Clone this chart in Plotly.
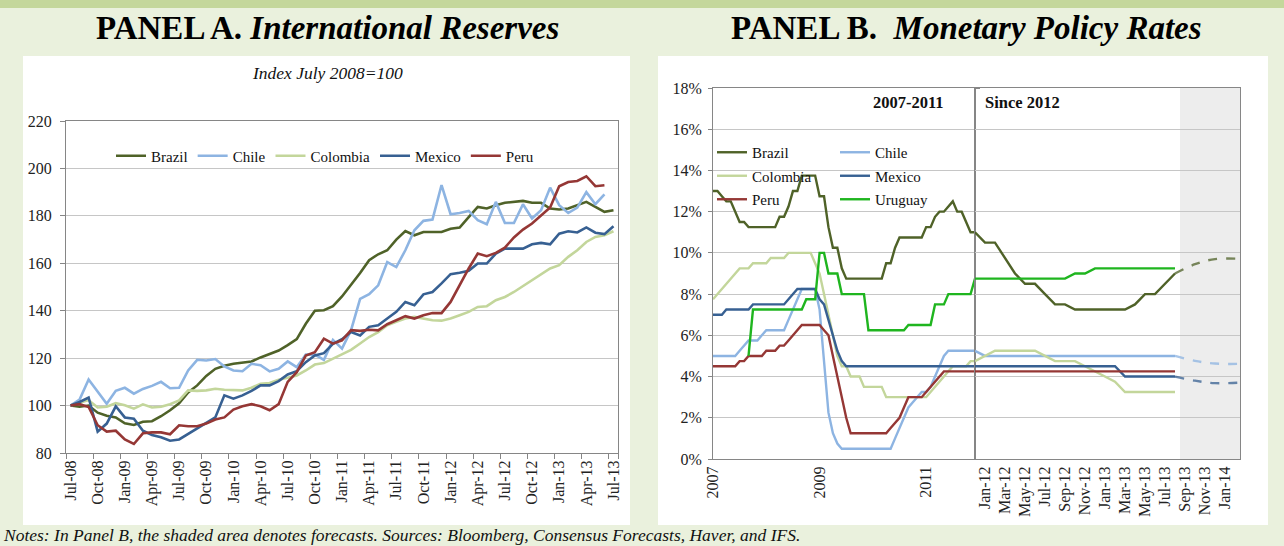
import plotly.graph_objects as go
import pandas as pd

W, H = 1284, 546
FONT = "Liberation Serif"

# ---------------- Panel A data: International reserves (index Jul-08 = 100)
months_a = list(pd.date_range("2008-07-01", "2013-07-01", freq="MS").strftime("%b-%y"))
brazil_a = [100, 99.5, 100, 97, 95.7, 95, 92.5, 91.8, 93.2, 93.4, 95.5, 98,
            101, 105.5, 108.5, 112.5, 115.5, 116.8, 117.6, 118.2, 118.6, 120.3, 121.8, 123.2,
            125.5, 128, 134.5, 140, 140.2, 141.9, 146, 150.7, 155.9, 161.3, 163.8, 165.5,
            170, 173.6, 171.8, 173.2, 173.2, 173.2, 174.6, 175.1, 179.5, 183.8, 183.1, 184.5,
            185.5, 185.9, 186.3, 185.5, 185.5, 183.1, 182.7, 183.1, 184.5, 185.9, 183.8, 181.7, 182.4]
chile_a = [100, 102.5, 111, 105.7, 100.8, 106.2, 107.5, 105, 107, 108.3, 110, 107.3,
           107.5, 114.8, 119.3, 119, 119.6, 116.5, 114.8, 114.5, 117.6, 117, 114.4, 115.5,
           118.6, 116.2, 121.5, 121.5, 119.3, 127.7, 124, 131.8, 145, 147, 150.7, 160.5,
           158.4, 165.5, 173.9, 177.9, 178.4, 193, 180.7, 181.2, 182.1, 178.2, 176.5, 185.9,
           177, 177, 184.9, 178.9, 182.4, 191.9, 184.5, 181.2, 183.5, 190, 184.9, 189.1]
colombia_a = [100, 101, 102.3, 99.2, 99.5, 101, 100.1, 98.7, 100.5, 99.2, 99.5, 100.6,
              102.2, 106.4, 106.2, 106.4, 107.1, 106.7, 106.7, 106.4, 107.5, 109.2, 109.5, 110.9,
              111.7, 112.7, 114.8, 117.3, 117.9, 119.7, 121.5, 123.5, 126.2, 128.9, 131, 133.9,
              135.3, 136.7, 137.4, 136.7, 136, 135.8, 136.7, 138.1, 139.5, 141.6, 141.9, 144.4,
              145.8, 147.9, 150.3, 152.8, 155.4, 157.8, 159.2, 162.7, 165.5, 169, 171.1, 171.8, 173.5]
mexico_a = [100, 101.5, 103.4, 89, 92.4, 99.7, 95, 94.5, 89.4, 87.6, 86.6, 85.2,
            85.7, 88, 90.6, 92.7, 95, 104.3, 102.9, 104.3, 106.2, 108.5, 108.5, 110.3,
            113.1, 114.5, 118.3, 121.1, 122.1, 126, 128, 131, 129.6, 133.2, 133.9, 136.7,
            139.5, 143.7, 142.3, 146.9, 147.9, 151.5, 155.4, 156, 156.8, 159.9, 159.9, 164.1,
            166.2, 166.2, 166.2, 168, 168.6, 168, 172.5, 173.5, 173, 175.1, 172.9, 172.3, 175.6]
peru_a = [100, 100.6, 99.4, 91.7, 89, 89.4, 85.7, 83.8, 88.3, 88.7, 88.7, 87.9,
          91.7, 91.3, 91.3, 92.4, 94.1, 95, 98.3, 99.7, 100.6, 99.7, 98, 100.6,
          110, 114.1, 121.1, 122.5, 128.2, 126.1, 127.5, 131.8, 131.5, 132, 131.7, 134.3,
          136, 137.7, 136.7, 138.1, 139, 139, 143.7, 150.7, 157.8, 164.1, 163, 164.4,
          166.6, 170.9, 174.2, 176.8, 180.3, 183.5, 192.5, 194.3, 194.7, 196.7, 192.5, 192.9]

# ---------------- Panel B data: monetary policy rates (%)
months_b_left = list(pd.date_range("2007-01-01", "2011-12-01", freq="MS").strftime("%b-%y"))
brazil_bl = [13.0, 13.0, 12.75, 12.5, 12.5, 12.0, 11.5, 11.5, 11.25, 11.25, 11.25, 11.25,
             11.25, 11.25, 11.25, 11.75, 11.75, 12.25, 13.0, 13.0, 13.75, 13.75, 13.75, 13.75,
             12.75, 12.75, 11.25, 10.25, 10.25, 9.25, 8.75, 8.75, 8.75, 8.75, 8.75, 8.75,
             8.75, 8.75, 8.75, 9.5, 9.5, 10.25, 10.75, 10.75, 10.75, 10.75, 10.75, 10.75,
             11.25, 11.25, 11.75, 12.0, 12.0, 12.25, 12.5, 12.0, 12.0, 11.5, 11.0, 11.0]
chile_bl = [5.0, 5.0, 5.0, 5.0, 5.0, 5.0, 5.25, 5.5, 5.75, 5.75, 5.75, 6.0,
            6.25, 6.25, 6.25, 6.25, 6.25, 6.75, 7.25, 7.75, 8.25, 8.25, 8.25, 8.25,
            7.25, 4.75, 2.25, 1.25, 0.75, 0.5, 0.5, 0.5, 0.5, 0.5, 0.5, 0.5,
            0.5, 0.5, 0.5, 0.5, 0.5, 1.0, 1.5, 2.0, 2.5, 2.75, 3.0, 3.25,
            3.25, 3.5, 4.0, 4.5, 5.0, 5.25, 5.25, 5.25, 5.25, 5.25, 5.25, 5.25]
colombia_bl = [7.75, 8.0, 8.25, 8.5, 8.75, 9.0, 9.25, 9.25, 9.25, 9.5, 9.5, 9.5,
               9.5, 9.75, 9.75, 9.75, 9.75, 10.0, 10.0, 10.0, 10.0, 10.0, 10.0, 9.5,
               9.0, 8.0, 7.0, 6.0, 5.0, 4.5, 4.5, 4.0, 4.0, 4.0, 3.5, 3.5,
               3.5, 3.5, 3.5, 3.0, 3.0, 3.0, 3.0, 3.0, 3.0, 3.0, 3.0, 3.0,
               3.0, 3.25, 3.5, 3.75, 4.0, 4.25, 4.5, 4.5, 4.5, 4.5, 4.75, 4.75]
mexico_bl = [7.0, 7.0, 7.0, 7.25, 7.25, 7.25, 7.25, 7.25, 7.25, 7.5, 7.5, 7.5,
             7.5, 7.5, 7.5, 7.5, 7.5, 7.75, 8.0, 8.25, 8.25, 8.25, 8.25, 8.25,
             7.75, 7.5, 6.75, 6.0, 5.25, 4.75, 4.5, 4.5, 4.5, 4.5, 4.5, 4.5,
             4.5, 4.5, 4.5, 4.5, 4.5, 4.5, 4.5, 4.5, 4.5, 4.5, 4.5, 4.5,
             4.5, 4.5, 4.5, 4.5, 4.5, 4.5, 4.5, 4.5, 4.5, 4.5, 4.5, 4.5]
peru_bl = [4.5, 4.5, 4.5, 4.5, 4.5, 4.5, 4.75, 4.75, 5.0, 5.0, 5.0, 5.0,
           5.25, 5.25, 5.25, 5.5, 5.5, 5.75, 6.0, 6.25, 6.5, 6.5, 6.5, 6.5,
           6.5, 6.25, 6.0, 5.0, 4.0, 3.0, 2.0, 1.25, 1.25, 1.25, 1.25, 1.25,
           1.25, 1.25, 1.25, 1.25, 1.5, 1.75, 2.0, 2.5, 3.0, 3.0, 3.0, 3.0,
           3.25, 3.5, 3.75, 4.0, 4.25, 4.25, 4.25, 4.25, 4.25, 4.25, 4.25, 4.25]
uruguay_bl = [None, None, None, None, None, None, None, None, 5.0, 7.25, 7.25, 7.25,
              7.25, 7.25, 7.25, 7.25, 7.25, 7.25, 7.25, 7.25, 7.25, 7.75, 7.75, 7.75,
              10.0, 10.0, 9.0, 9.0, 9.0, 8.0, 8.0, 8.0, 8.0, 8.0, 8.0, 6.25,
              6.25, 6.25, 6.25, 6.25, 6.25, 6.25, 6.25, 6.25, 6.5, 6.5, 6.5, 6.5,
              6.5, 6.5, 7.5, 7.5, 7.5, 8.0, 8.0, 8.0, 8.0, 8.0, 8.0, 8.75]

months_b_right = list(pd.date_range("2012-01-01", "2013-08-01", freq="MS").strftime("%b-%y"))
brazil_br = [10.5, 10.5, 9.75, 9.0, 8.5, 8.5, 8.0, 7.5, 7.5, 7.25, 7.25, 7.25,
             7.25, 7.25, 7.25, 7.5, 8.0, 8.0, 8.5, 9.0]
chile_br = [5.0] * 20
colombia_br = [5.0, 5.25, 5.25, 5.25, 5.25, 5.25, 5.0, 4.75, 4.75, 4.75, 4.5, 4.25,
               4.0, 3.75, 3.25, 3.25, 3.25, 3.25, 3.25, 3.25]
mexico_br = [4.5, 4.5, 4.5, 4.5, 4.5, 4.5, 4.5, 4.5, 4.5, 4.5, 4.5, 4.5,
             4.5, 4.5, 4.0, 4.0, 4.0, 4.0, 4.0, 4.0]
peru_br = [4.25] * 20
uruguay_br = [8.75, 8.75, 8.75, 8.75, 8.75, 8.75, 8.75, 8.75, 8.75, 9.0, 9.0, 9.25,
              9.25, 9.25, 9.25, 9.25, 9.25, 9.25, 9.25, 9.25]

# forecasts (dashed)
months_fc = ["Aug-13", "Oct-13", "Dec-13", "Mar-14"]
brazil_fc = [9.0, 9.45, 9.7, 9.7]
chile_fc = [5.0, 4.76, 4.63, 4.62]
mexico_fc = [4.0, 3.8, 3.68, 3.72]

# axis categories for right section of Panel B
cats_right = list(pd.date_range("2011-12-01", "2014-03-01", freq="MS").strftime("%b-%y"))
ticks_right = ["Jan-12", "Mar-12", "May-12", "Jul-12", "Sep-12", "Nov-12", "Jan-13",
               "Mar-13", "May-13", "Jul-13", "Sep-13", "Nov-13", "Jan-14"]
ticks_left = ["Jan-07", "Jan-09", "Jan-11"]
ticks_left_text = ["2007", "2009", "2011"]
forecast_start = "Sep-13"

COL = {"Brazil": "#4F6228", "Chile": "#8DB4E2", "Colombia": "#C3D69B",
       "Mexico": "#376092", "Peru": "#953735", "Uruguay": "#1FB51F"}

fig = go.Figure()

# Panel A traces
for name, vals in [("Brazil", brazil_a), ("Chile", chile_a), ("Colombia", colombia_a),
                   ("Mexico", mexico_a), ("Peru", peru_a)]:
    fig.add_trace(go.Scatter(x=months_a[:len(vals)], y=vals, mode="lines", name=name,
                             line=dict(color=COL[name], width=2.6),
                             xaxis="x", yaxis="y", legend="legend", legendgroup="A" + name))

# Panel B traces
left_sets = [("Brazil", brazil_bl, brazil_br, "legend2"), ("Chile", chile_bl, chile_br, "legend3"),
             ("Colombia", colombia_bl, colombia_br, "legend2"), ("Mexico", mexico_bl, mexico_br, "legend3"),
             ("Peru", peru_bl, peru_br, "legend2"), ("Uruguay", uruguay_bl, uruguay_br, "legend3")]
for name, lv, rv, lg in left_sets:
    fig.add_trace(go.Scatter(x=months_b_left, y=lv, mode="lines", name=name,
                             line=dict(color=COL[name], width=2.4),
                             xaxis="x2", yaxis="y2", legend=lg, legendgroup="B" + name))
    fig.add_trace(go.Scatter(x=[months_b_left[-1]] + months_b_right, y=[lv[-1]] + rv,
                             mode="lines", name=name, showlegend=False,
                             line=dict(color=COL[name], width=2.4),
                             xaxis="x3", yaxis="y2", legendgroup="B" + name))
for name, fv in [("Brazil", brazil_fc), ("Chile", chile_fc), ("Mexico", mexico_fc)]:
    fig.add_trace(go.Scatter(x=months_fc, y=fv, mode="lines", name=name + " forecast",
                             showlegend=False, opacity=0.75,
                             line=dict(color=COL[name], width=2.4, dash="dash", shape="spline"),
                             xaxis="x3", yaxis="y2", legendgroup="B" + name))

AX = "#868686"
GRID = "#C6C6C6"
tickfont = dict(family=FONT, size=16, color="#222222")

def px(x):
    return x / W

def py(y):
    return 1 - y / H

right_range = [0, cats_right.index("Feb-14") + 0.5]

fig.update_layout(
    width=W, height=H,
    margin=dict(l=0, r=0, t=0, b=0),
    paper_bgcolor="#EAF1DD", plot_bgcolor="rgba(0,0,0,0)",
    font=dict(family=FONT, size=15, color="#111111"),
    xaxis=dict(domain=[px(66), px(618)], anchor="y", type="category",
               categoryorder="array", categoryarray=months_a, range=[-0.5, 60.5],
               tickmode="array", tickvals=months_a[::3], tickangle=-90, tickson="boundaries",
               ticks="outside", ticklen=5, tickcolor=AX, showline=True, linecolor=AX,
               mirror=True, showgrid=False, tickfont=tickfont, automargin=False),
    yaxis=dict(domain=[py(453), py(121)], anchor="x", range=[80, 220], dtick=20,
               ticks="outside", ticklen=5, tickcolor=AX, showline=True, linecolor=AX,
               mirror=True, gridcolor=GRID, tickfont=tickfont, automargin=False, zeroline=False,
               ticklabelstandoff=5),
    xaxis2=dict(domain=[px(713), px(975)], anchor="y2", type="category",
                categoryorder="array", categoryarray=months_b_left, range=[0, 59],
                tickmode="array", tickvals=ticks_left, ticktext=ticks_left_text, tickangle=-90,
                ticks="", showline=True, linecolor=AX, mirror=True, showgrid=False,
                tickfont=tickfont, automargin=False),
    xaxis3=dict(domain=[px(975), px(1240)], anchor="y2", type="category",
                categoryorder="array", categoryarray=cats_right, range=right_range,
                tickmode="array", tickvals=ticks_right, tickangle=-90,
                ticks="", showline=True, linecolor=AX, mirror=True, showgrid=False,
                tickfont=tickfont, automargin=False),
    yaxis2=dict(domain=[py(459), py(88)], anchor="x2", range=[0, 18], dtick=2, ticksuffix="%",
                ticks="outside", ticklen=4, tickcolor=AX, showline=True, linecolor=AX,
                mirror="all", gridcolor=GRID, tickfont=tickfont, automargin=False, zeroline=False,
                ticklabelstandoff=3),
    legend=dict(orientation="h", x=px(325), y=py(156), xanchor="center", yanchor="middle",
                font=dict(family=FONT, size=15, color="#111111"), bgcolor="rgba(0,0,0,0)"),
    legend2=dict(orientation="v", x=px(712), y=py(136), xanchor="left", yanchor="top",
                 font=dict(family=FONT, size=15, color="#111111"), bgcolor="rgba(0,0,0,0)",
                 tracegroupgap=1),
    legend3=dict(orientation="v", x=px(835), y=py(136), xanchor="left", yanchor="top",
                 font=dict(family=FONT, size=15, color="#111111"), bgcolor="rgba(0,0,0,0)",
                 tracegroupgap=1),
    showlegend=True,
)

shapes = [
    dict(type="rect", xref="paper", yref="paper", x0=0, x1=1, y0=py(8), y1=1,
         fillcolor="#C4D79B", line=dict(width=0), layer="below"),
    dict(type="rect", xref="paper", yref="paper", x0=px(23), x1=px(630), y0=py(525), y1=py(56),
         fillcolor="white", line=dict(width=0), layer="below"),
    dict(type="rect", xref="paper", yref="paper", x0=px(658), x1=px(1268), y0=py(525), y1=py(56),
         fillcolor="white", line=dict(width=0), layer="below"),
    dict(type="rect", xref="x3", yref="y2 domain", x0=cats_right.index(forecast_start) - 0.5,
         x1=right_range[1], y0=0, y1=1, fillcolor="#EDEDED", line=dict(width=0), layer="below"),
]
fig.update_layout(shapes=shapes)

ann = [
    dict(text="<b>PANEL A. <i>International Reserves</i></b>", x=px(327), y=py(28),
         font=dict(family=FONT, size=33, color="#000000")),
    dict(text="<b>PANEL B.  <i>Monetary Policy Rates</i></b>", x=px(966), y=py(28),
         font=dict(family=FONT, size=33, color="#000000")),
    dict(text="<i>Index July 2008=100</i>", x=px(327), y=py(73),
         font=dict(family=FONT, size=17.5, color="#111111")),
    dict(text="<b>2007-2011</b>", x=px(946), y=py(102), xanchor="right",
         font=dict(family=FONT, size=16.5, color="#111111")),
    dict(text="<b>Since 2012</b>", x=px(983), y=py(102), xanchor="left",
         font=dict(family=FONT, size=16.5, color="#111111")),
    dict(text="<i>Notes: In Panel B, the shaded area denotes forecasts. Sources: Bloomberg, Consensus Forecasts, Haver, and IFS.</i>",
         x=px(1), y=py(535), xanchor="left",
         font=dict(family=FONT, size=17.5, color="#111111")),
]
for a in ann:
    a.setdefault("xanchor", "center")
    a.update(xref="paper", yref="paper", showarrow=False, yanchor="middle")
fig.update_layout(annotations=ann)

fig.write_html("out.html", config={"displayModeBar": False},
               post_script="document.body.style.margin='0px';document.body.style.padding='0px';"
                           "document.body.style.overflow='hidden';")
